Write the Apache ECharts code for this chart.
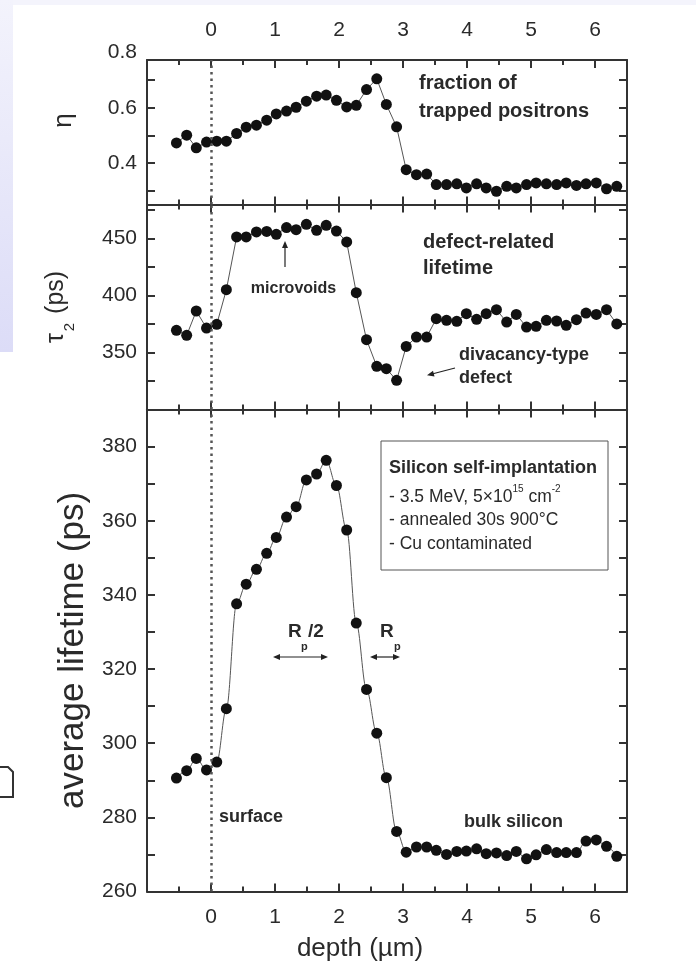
<!DOCTYPE html>
<html><head><meta charset="utf-8">
<script src="https://cdn.jsdelivr.net/npm/echarts@6/dist/echarts.min.js"></script>
<style>html,body{margin:0;padding:0;background:#fff}#c{width:696px;height:967px}</style>
</head><body><div id="c"></div><script>
// ---- data ----
const depth = [-0.54,-0.38,-0.23,-0.07,0.09,0.24,0.40,0.55,0.71,0.87,1.02,1.18,1.33,1.49,1.65,1.80,1.96,2.12,2.27,2.43,2.59,2.74,2.90,3.05,3.21,3.37,3.52,3.68,3.84,3.99,4.15,4.30,4.46,4.62,4.77,4.93,5.08,5.24,5.40,5.55,5.71,5.86,6.02,6.18,6.34];
const eta = [0.473,0.501,0.455,0.476,0.479,0.479,0.507,0.530,0.537,0.555,0.578,0.588,0.602,0.624,0.642,0.646,0.627,0.603,0.609,0.666,0.705,0.612,0.531,0.376,0.358,0.360,0.322,0.322,0.325,0.310,0.325,0.310,0.298,0.316,0.310,0.322,0.328,0.325,0.322,0.328,0.319,0.325,0.328,0.307,0.316];
const tau2 = [369.5,365.1,386.5,371.5,374.8,405.2,451.5,451.5,455.9,456.4,453.8,459.7,457.9,462.6,457.3,461.7,456.7,447.1,402.6,361.3,337.9,335.8,325.6,355.4,363.6,363.6,379.7,378.3,377.4,384.1,379.2,384.1,387.6,376.8,383.5,372.4,373.0,378.3,377.7,373.9,378.9,384.7,383.5,387.6,375.1];
const avgLifetime = [290.6,292.6,295.9,292.8,294.9,309.3,337.6,342.9,346.9,351.2,355.5,361.0,363.8,371.0,372.6,376.3,369.5,357.5,332.4,314.5,302.7,290.7,276.2,270.6,272.0,272.0,271.1,270.0,270.8,270.9,271.5,270.2,270.4,269.7,270.8,268.8,269.9,271.3,270.5,270.5,270.5,273.6,273.9,272.2,269.5];
const xMajorTicks = [0,1,2,3,4,5,6];
const xMinorTicks = [-0.5,0.5,1.5,2.5,3.5,4.5,5.5];
const etaTicks = [0.3,0.4,0.5,0.6,0.7];
const etaLabels = [0.4,0.6,0.8];
const tauTicks = [325,350,375,400,425,450,475];
const tauLabels = [350,400,450];
const avgTicks = [270,280,290,300,310,320,330,340,350,360,370,380];
const avgLabels = [260,280,300,320,340,360,380];

// ---- styling ----
const FONT = "'Liberation Sans', Arial, Helvetica, sans-serif";
const INK = '#2a2a2a';
const FRAME = {color:'#333', width:2};
const XMIN = -1, XMAX = 6.5;
const GL = 147, GW = 480;

const grids = [
  {left:GL, width:GW, top:60, height:144.5},     // panel 1 (frame + data)
  {left:GL, width:GW, top:52.5, height:152},     // panel 1 label scale (reaches 0.8)
  {left:GL, width:GW, top:204.5, height:205},    // panel 2
  {left:GL, width:GW, top:409.5, height:482}     // panel 3
];

function xAx(grid, pos, ticks, len, line, labels, extra) {
  return Object.assign({
    type:'value', gridIndex:grid, position:pos, min:XMIN, max:XMAX,
    axisLine:{show:line, onZero:false, lineStyle:FRAME},
    axisTick:{show:true, inside:true, length:len, customValues:ticks, lineStyle:FRAME},
    axisLabel: labels ? {show:true, customValues:labels, formatter:v=>String(v), color:INK, fontSize:21, fontFamily:FONT, margin: pos==='top'?19:15}
                      : {show:false},
    splitLine:{show:false}
  }, extra||{});
}
function panelX(grid, topLabels, bottomLabels, extraBottom) {
  return [
    xAx(grid,'top',xMajorTicks,8,true,topLabels),
    xAx(grid,'top',xMinorTicks,5,false,null),
    xAx(grid,'bottom',xMajorTicks,8,true,bottomLabels,extraBottom),
    xAx(grid,'bottom',xMinorTicks,5,false,null)
  ];
}
const xAxes = [].concat(
  panelX(0,xMajorTicks,null),
  [{type:'value', gridIndex:1, min:XMIN, max:XMAX, show:false, axisLine:{onZero:false}}],
  panelX(2,null,null),
  panelX(3,null,xMajorTicks,{name:'depth (\u00b5m)', nameLocation:'middle', nameGap:44,
     nameTextStyle:{color:INK, fontSize:26, fontFamily:FONT, padding:[0,54,0,0]}})
);

function yAx(grid, pos, min, max, ticks, labels, fmt, line, extra) {
  return Object.assign({
    type:'value', gridIndex:grid, position:pos, min:min, max:max,
    axisLine:{show:line, onZero:false, lineStyle:FRAME},
    axisTick: ticks ? {show:true, inside:true, length:8, customValues:ticks, lineStyle:FRAME} : {show:false},
    axisLabel: labels ? {show:true, customValues:labels, formatter:fmt, color:INK, fontSize:21, fontFamily:FONT, margin:10}
                      : {show:false},
    splitLine:{show:false}
  }, extra||{});
}
const yAxes = [
  yAx(0,'left',0.25,0.773,etaTicks,null,null,true),
  yAx(0,'right',0.25,0.773,etaTicks,null,null,true),
  yAx(1,'left',0.25,0.8,null,etaLabels,v=>v.toFixed(1),false,
      {name:'\u03b7', nameLocation:'middle', nameGap:70, nameTextStyle:{color:INK, fontSize:26, fontFamily:FONT, padding:[0,0,0,16]}}),
  yAx(2,'left',300,480,tauTicks,tauLabels,v=>String(v),true,
      {name:'{t|\u03c4}{s|2}{t| (ps)}', nameLocation:'middle', nameGap:76,
       nameTextStyle:{color:INK, fontFamily:FONT, rich:{t:{fontSize:25, color:INK, fontFamily:FONT, lineHeight:30, verticalAlign:'middle'}, s:{fontSize:15, color:INK, fontFamily:FONT, lineHeight:30, verticalAlign:'bottom', padding:[0,2,-6,2]}}}}),
  yAx(2,'right',300,480,tauTicks,null,null,true),
  yAx(3,'left',260,390,avgTicks,avgLabels,v=>String(v),true,
      {name:'average lifetime (ps)', nameLocation:'middle', nameGap:56, nameTextStyle:{color:INK, fontSize:35, fontFamily:FONT}}),
  yAx(3,'right',260,390,avgTicks,null,null,true)
];

const zeroLine = {silent:true, symbol:['none','none'], label:{show:false}, animation:false,
  lineStyle:{type:[2.5,4], color:'#555', width:2.5, opacity:1}, emphasis:{disabled:true}, data:[{xAxis:0}]};
function ser(xi, yi, vals, smooth) {
  return {type:'line', xAxisIndex:xi, yAxisIndex:yi, data:depth.map((d,i)=>[d, vals[i]]),
    symbol:'circle', symbolSize:11, itemStyle:{color:'#111'}, lineStyle:{color:'#555', width:1},
    smooth: smooth||false, smoothMonotone: smooth ? 'x' : undefined, markLine:zeroLine, z:3};
}

// ---- annotations ----
const B = 'bold';
function txt(x, y, s, size, weight, align) {
  return {type:'text', x:x, y:y, z:10, style:{text:s, fill:INK, fontSize:size, fontWeight:weight||'normal',
    fontFamily:FONT, textAlign:align||'left', textVerticalAlign:'middle'}};
}
function seg(x1,y1,x2,y2){ return {type:'line', z:10, shape:{x1:x1,y1:y1,x2:x2,y2:y2}, style:{stroke:'#222', lineWidth:1.2}}; }
function head(x, y, dx, dy) { // arrow head at (x,y) pointing along (dx,dy)
  const L = Math.hypot(dx,dy), ux = dx/L, uy = dy/L, s = 7, w = 3;
  return {type:'polygon', z:10, shape:{points:[[x,y],[x-ux*s-uy*w, y-uy*s+ux*w],[x-ux*s+uy*w, y-uy*s-ux*w]]}, style:{fill:'#222'}};
}
const graphics = [
  {type:'rect', z:-1, shape:{x:0,y:0,width:696,height:5}, style:{fill:'#f4f4fc'}},
  {type:'rect', z:-1, shape:{x:0,y:0,width:13,height:352}, style:{fill:new echarts.graphic.LinearGradient(0,0,0,1,[{offset:0,color:'#f3f3fc'},{offset:1,color:'#dcdcf7'}])}},
  {type:'polyline', z:10, shape:{points:[[0,767],[8,767],[13,772],[13,797],[0,797]]}, style:{stroke:'#333', lineWidth:2, fill:null}},
  txt(419, 83, 'fraction of', 20, B),
  txt(419, 111, 'trapped positrons', 20, B),
  txt(423, 242, 'defect-related', 20, B),
  txt(423, 268, 'lifetime', 20, B),
  txt(293.5, 289, 'microvoids', 16, B, 'center'),
  seg(285, 267, 285, 246), head(285, 241, 0, -1),
  txt(459, 355, 'divacancy-type', 18, B),
  txt(459, 378, 'defect', 18, B),
  seg(455, 368, 432, 374), head(427, 375.3, -23, 6),
  {type:'rect', z:9, shape:{x:381, y:441, width:227, height:129}, style:{stroke:'#555', lineWidth:1, fill:'#fff'}},
  txt(389, 468, 'Silicon self-implantation', 18, B),
  {type:'text', x:389, y:495, z:10, style:{text:'{a|- 3.5 MeV, 5\u00d710}{u|15}{a| cm}{u|-2}', fill:INK, fontFamily:FONT, textVerticalAlign:'middle',
     rich:{a:{fontSize:17.5, fill:INK, fontFamily:FONT, lineHeight:22, verticalAlign:'bottom'}, u:{fontSize:10, fill:INK, fontFamily:FONT, lineHeight:22, verticalAlign:'top'}}}},
  txt(389, 520, '- annealed 30s 900\u00b0C', 17.5),
  txt(389, 544, '- Cu contaminated', 17.5),
  txt(288, 632, 'R', 19, B), txt(301, 647, 'p', 11, B), txt(308, 632, '/2', 19, B),
  seg(278, 657, 323, 657), head(273, 657, -1, 0), head(328, 657, 1, 0),
  txt(380, 632, 'R', 19, B), txt(394, 647, 'p', 11, B),
  seg(375, 657, 395, 657), head(370, 657, -1, 0), head(400, 657, 1, 0),
  txt(219, 817, 'surface', 18, B),
  txt(464, 822, 'bulk silicon', 18, B)
];

const chart = echarts.init(document.getElementById('c'), null, {renderer:'canvas'});
chart.setOption({
  backgroundColor:'#fff',
  animation:false,
  textStyle:{fontFamily:FONT},
  grid: grids,
  xAxis: xAxes,
  yAxis: yAxes,
  series: [
    ser(0, 0, eta),
    ser(5, 3, tau2),
    ser(9, 5, avgLifetime, 0.35)
  ],
  graphic: graphics
});
</script></body></html>
